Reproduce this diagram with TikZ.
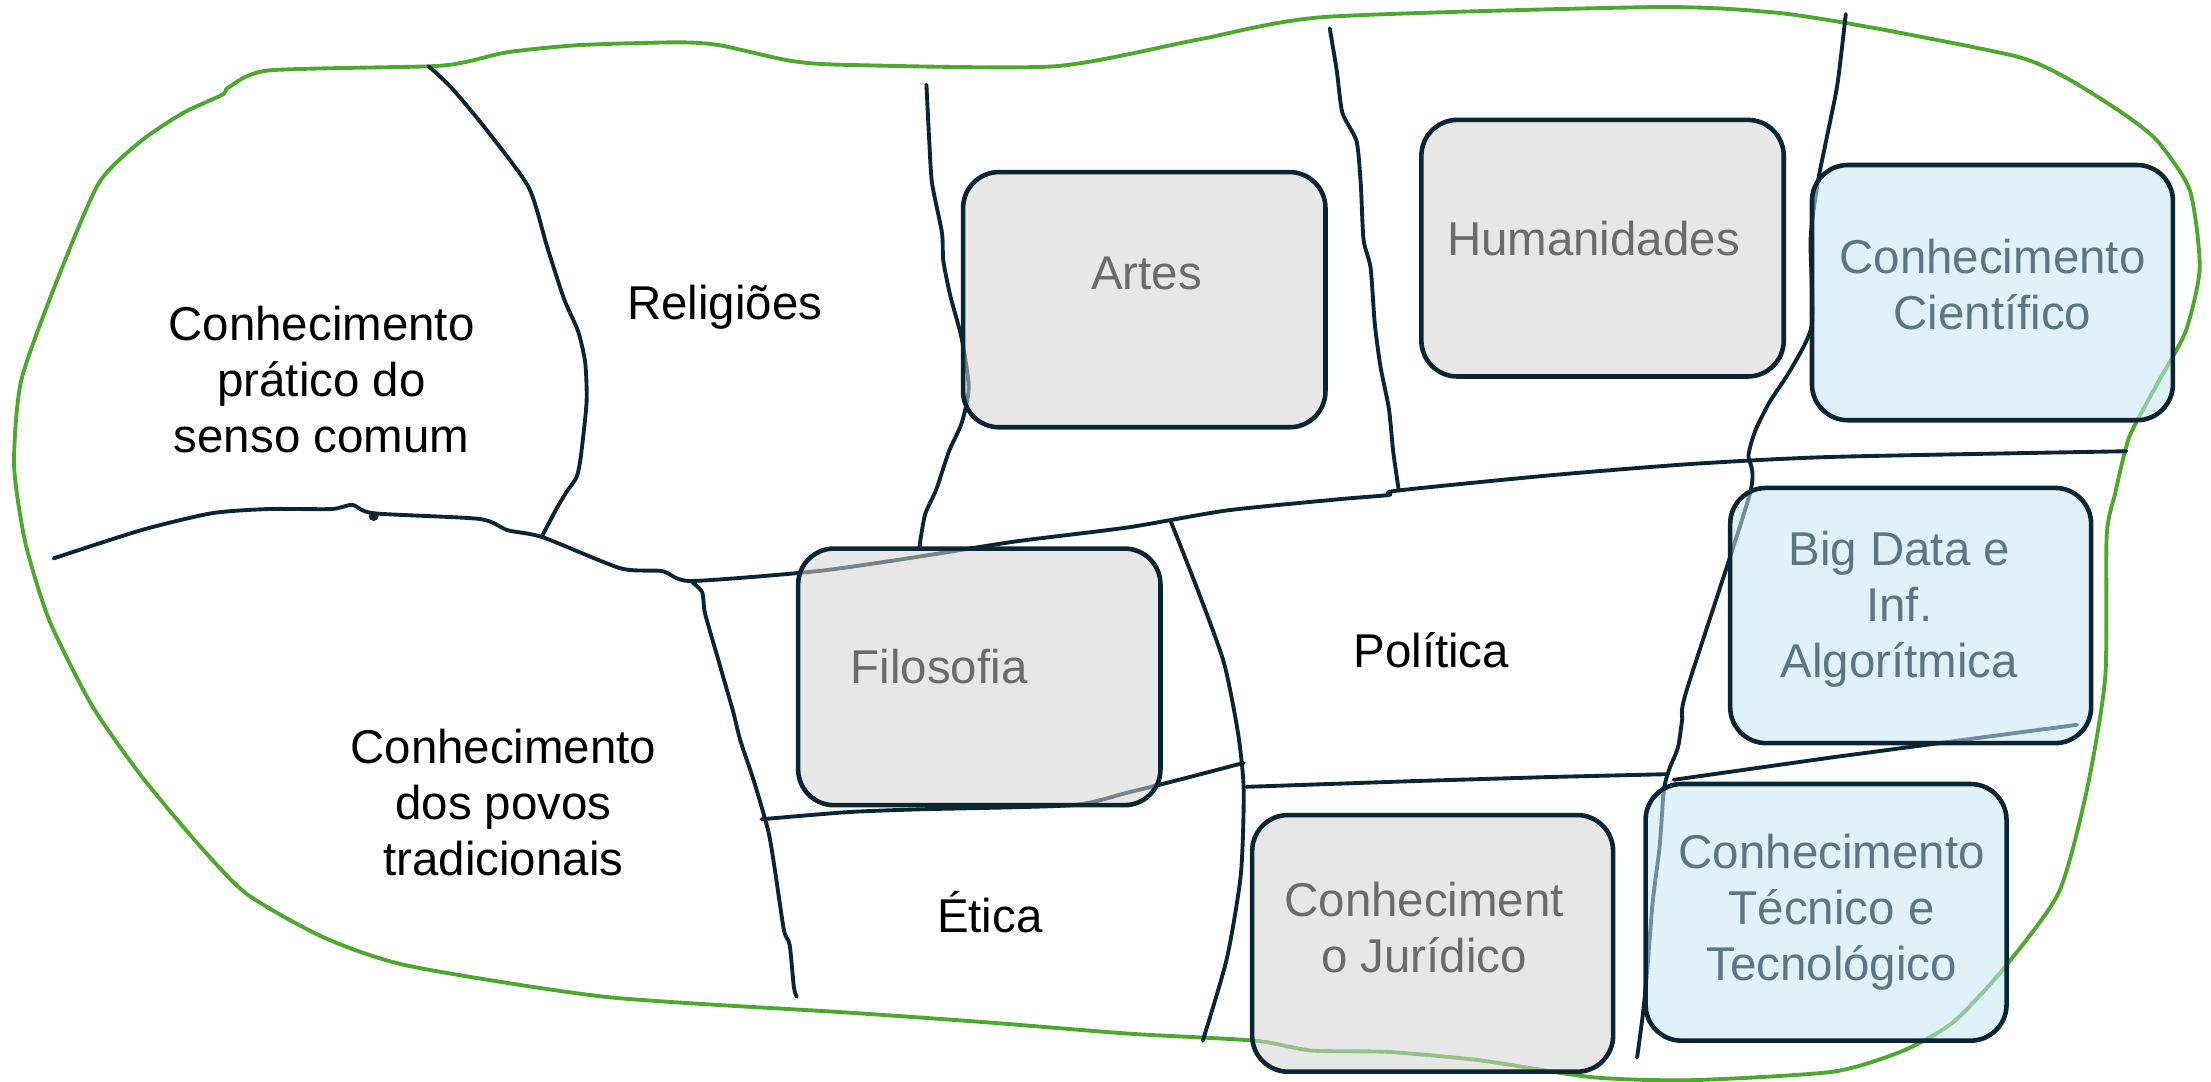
\documentclass[tikz,border=0pt]{standalone}
\usepackage{fontspec}
\setmainfont{Liberation Sans}
\usepackage{tikz}
\usetikzlibrary{positioning}
\definecolor{colorLine}{HTML}{0B2533}
\definecolor{colorRim}{HTML}{4EA72E}
\definecolor{colorGray}{HTML}{D3D3D3}
\definecolor{colorBlue}{HTML}{C5E6F4}
\definecolor{colorTextGray}{HTML}{6B6B6B}
\definecolor{colorTextBlue}{HTML}{5E7681}

\begin{document}
\begin{tikzpicture}[x=0.0141cm, y=-0.0141cm,
        split/.style={colorLine, line width=1.1pt, line cap=round, line join=round},
        rim/.style={colorRim, line width=1.1pt, line join=round},
        grayBox/.style={draw=colorLine, line width=1.3pt, fill=colorGray, fill opacity=0.55, rounded corners=0.36cm},
        blueBox/.style={grayBox, fill=colorBlue},
        field/.style={align=center, font=\fontsize{13.5}{16}\selectfont},
        grayText/.style={field, text=colorTextGray},
        blueText/.style={field, text=colorTextBlue}]
        \useasboundingbox (0,0) rectangle (1568,767);
        % outer border
        \draw[rim] plot[smooth cycle, tension=0.4] coordinates {(190,50) (305,47) (330,44) (360,37) (410,32) (480,30) (510,32) (560,43) (600,46) (748,47) (850,28) (940,12) (1175,5) (1260,9) (1330,20) (1430,40) (1465,55) (1505,80) (1530,100) (1553,135) (1560,190) (1550,235) (1530,272) (1510,310) (1500,350) (1494,380) (1493,480) (1480,560) (1460,633) (1420,688) (1385,725) (1350,745) (1300,760) (1200,766) (1130,764) (1050,752) (985,746) (930,745) (890,738) (800,733) (700,725) (600,718) (430,707) (290,685) (230,665) (175,634) (140,598) (100,550) (65,500) (35,440) (18,385) (10,330) (15,270) (40,200) (70,130) (100,100) (130,80) (158,67) (162,62)};
        % dividing lines
        \draw[split] plot[smooth, tension=0.4] coordinates {(38,396) (100,376) (150,364) (190,361) (235,361) (250,358) (265,364) (340,368) (360,376) (385,381) (440,403) (470,405) (490,412) (580,405) (650,395) (720,384) (800,374) (870,362) (950,354) (985,351) (990,348) (1100,337) (1200,329) (1300,324) (1508,320)};
        \fill[colorLine] (265,366) circle (1.4pt);
        \draw[split] plot[smooth, tension=0.4] coordinates {(304,47) (320,62) (345,92) (375,133) (388,175) (400,212) (410,235) (415,257) (416,285) (412,323) (409,338) (401,350) (394,362) (384,381)};
        \draw[split] plot[smooth, tension=0.4] coordinates {(657,60) (659,100) (661,130) (668,165) (669,185) (674,210) (682,240) (687,275) (682,300) (673,320) (664,347) (656,365) (652,388)};
        \draw[split] plot[smooth, tension=0.4] coordinates {(943,20) (948,50) (952,80) (962,100) (965,130) (967,170) (972,190) (975,230) (979,260) (985,290) (988,320) (992,348)};
        \draw[split] plot[smooth, tension=0.4] coordinates {(1309,10) (1303,60) (1295,100) (1289,130) (1284,170) (1285,230) (1270,262) (1255,285) (1245,305) (1240,323) (1241,350) (1196,490) (1193,510) (1190,530) (1184,545) (1180,560) (1177,600) (1172,640) (1168,690) (1165,720) (1161,750)};
        \draw[split] plot[smooth, tension=0.4] coordinates {(830,369) (850,420) (868,470) (878,520) (882,560) (880,620) (870,680) (853,738)};
        \draw[split] plot[smooth, tension=0.4] coordinates {(490,412) (498,420) (500,435) (510,470) (520,505) (525,525) (535,555) (545,590) (550,620) (556,660) (560,670) (563,700) (565,707)};
        \draw[split] plot[smooth, tension=0.4] coordinates {(540,581) (600,576) (650,574) (760,571) (800,562) (840,552) (882,541)};
        \draw[split] (884,558) -- (1000,554) -- (1100,551) -- (1183,549);
        \draw[split] (1187,553) -- (1300,537) -- (1473,514);
        % knowledge boxes
        \filldraw[grayBox] (683,122) rectangle (940,303);
        \filldraw[grayBox] (1008,85) rectangle (1265,267);
        \filldraw[blueBox] (1285,117) rectangle (1541,298);
        \filldraw[grayBox] (566,389) rectangle (823,571);
        \filldraw[blueBox] (1227,346) rectangle (1483,527);
        \filldraw[grayBox] (888,578) rectangle (1144,760);
        \filldraw[blueBox] (1167,556) rectangle (1423,738);
        \node[grayText] (artes) at (813,194) {Artes};
        \node[grayText] (humanidades) at (1130,169) {Humanidades};
        \node[blueText] (cientifico) at (1413,202) {Conhecimento\\Científico};
        \node[grayText] (filosofia) at (666,473) {Filosofia};
        \node[blueText] (bigdata) at (1347,432) {Big Data e\\Inf.\\Algorítmica};
        \node[grayText] (juridico) at (1010,658) {Conheciment\\o Jurídico};
        \node[blueText] (tecnico) at (1299,647) {Conhecimento\\Técnico e\\Tecnológico};
        % regions
        \node[field] (senso) at (228,269) {Conhecimento\\prático do\\senso comum};
        \node[field] (religioes) at (514,218) {Religiões};
        \node[field] (politica) at (1015,461) {Política};
        \node[field] (povos) at (357,569) {Conhecimento\\dos povos\\tradicionais};
        \node[field] (etica) at (702,647) {Ética};
    \end{tikzpicture}
\end{document}
